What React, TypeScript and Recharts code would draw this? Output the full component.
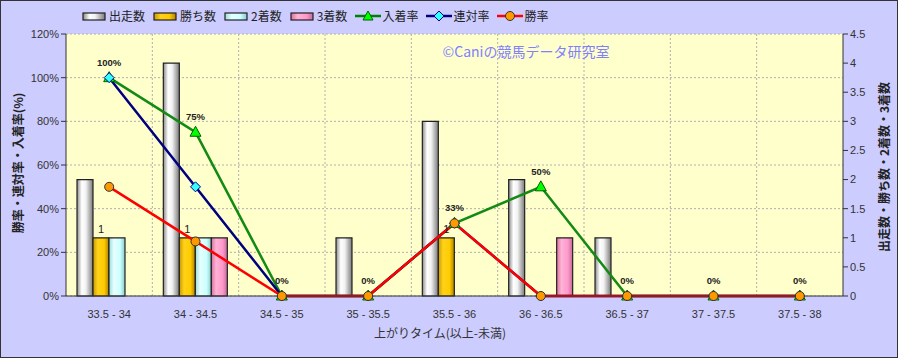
import React from 'react';
import { Bar, CartesianGrid, ComposedChart, LabelList, Legend, Line, XAxis, YAxis } from 'recharts';

const categories = ['33.5 - 34', '34 - 34.5', '34.5 - 35', '35 - 35.5', '35.5 - 36', '36 - 36.5', '36.5 - 37', '37 - 37.5', '37.5 - 38'];
const starts = [2, 4, 0, 1, 3, 2, 1, 0, 0];
const wins = [1, 1, 0, 0, 1, 0, 0, 0, 0];
const seconds = [1, 1, 0, 0, 0, 0, 0, 0, 0];
const thirds = [0, 1, 0, 0, 0, 1, 0, 0, 0];
const showRate = [100, 75, 0, 0, 33.3, 50, 0, 0, 0];
const rentaiRate = [100, 50, 0, 0, 33.3, 0, 0, 0, 0];
const winRate = [50, 25, 0, 0, 33.3, 0, 0, 0, 0];
const leftTicks = [0, 20, 40, 60, 80, 100, 120];
const rightTicks = [0, 0.5, 1, 1.5, 2, 2.5, 3, 3.5, 4, 4.5];

const data = categories.map((name, i) => ({
    name,
    starts: starts[i],
    wins: wins[i],
    seconds: seconds[i],
    thirds: thirds[i],
    showRate: showRate[i],
    rentaiRate: rentaiRate[i],
    winRate: winRate[i],
}));

const FONT = '"Liberation Sans", "Noto Sans CJK JP", sans-serif';
const JP = '"Noto Sans CJK JP", sans-serif';

const Triangle = (p: any) => (
    <polygon key={`t${p.index}`} points={`${p.cx},${p.cy - 6} ${p.cx - 5.5},${p.cy + 4} ${p.cx + 5.5},${p.cy + 4}`}
        fill="#00ff00" stroke="#006000" strokeWidth={1} />
);
const Diamond = (p: any) => (
    <polygon key={`d${p.index}`} points={`${p.cx},${p.cy - 5} ${p.cx + 5},${p.cy} ${p.cx},${p.cy + 5} ${p.cx - 5},${p.cy}`}
        fill="#33ffff" stroke="#000080" strokeWidth={1} />
);
const Circle = (p: any) => (
    <circle key={`c${p.index}`} cx={p.cx} cy={p.cy} r={4.5} fill="#ff9900" stroke="#333" strokeWidth={1} />
);

const legendItems = [
    { label: '出走数', kind: 'bar', fill: 'url(#gWhite)' },
    { label: '勝ち数', kind: 'bar', fill: 'url(#gGold)' },
    { label: '2着数', kind: 'bar', fill: 'url(#gCyan)' },
    { label: '3着数', kind: 'bar', fill: 'url(#gPink)' },
    { label: '入着率', kind: 'tri', color: '#008000' },
    { label: '連対率', kind: 'dia', color: '#000080' },
    { label: '勝率', kind: 'cir', color: '#ff0000' },
];

const LegendContent = () => (
    <div style={{ display: 'flex', gap: 8, paddingLeft: 81, fontFamily: JP, fontSize: 12, color: '#222' }}>
        {legendItems.map((it) => (
            <div key={it.label} style={{ display: 'flex', alignItems: 'center' }}>
                <svg width={26} height={12} style={{ marginRight: 1 }}>
                    {it.kind === 'bar' ? (
                        <rect x={1} y={3} width={22} height={7} fill={it.fill} stroke="#222" strokeWidth={1.2} />
                    ) : (
                        <g>
                            <line x1={0} y1={6} x2={26} y2={6} stroke={it.color} strokeWidth={2.5} />
                            {it.kind === 'tri' && <polygon points="13,1 8,10 18,10" fill="#00ff00" stroke="#006000" />}
                            {it.kind === 'dia' && <polygon points="13,1 18,6 13,11 8,6" fill="#33ffff" stroke="#000080" />}
                            {it.kind === 'cir' && <circle cx={13} cy={6} r={4.5} fill="#ff9900" stroke="#333" />}
                        </g>
                    )}
                </svg>
                <span>{it.label}</span>
            </div>
        ))}
    </div>
);

export default function App() {
    return (
        <div style={{ position: 'absolute', left: 0, top: 0, width: 898, height: 358, boxSizing: 'border-box', border: '1px solid #333', background: '#ccccff' }}>
            <ComposedChart width={896} height={356} data={data} barGap={0} barSize={16}
                margin={{ top: 33, right: 10, bottom: 31, left: 15 }}>
                <defs>
                    <linearGradient id="gWhite" x1="0" y1="0" x2="1" y2="0">
                        <stop offset="0%" stopColor="#8a8a8a" />
                        <stop offset="30%" stopColor="#ffffff" />
                        <stop offset="55%" stopColor="#f2f2f2" />
                        <stop offset="100%" stopColor="#7a7a7a" />
                    </linearGradient>
                    <linearGradient id="gGold" x1="0" y1="0" x2="1" y2="0">
                        <stop offset="0%" stopColor="#c89a00" />
                        <stop offset="30%" stopColor="#ffd21a" />
                        <stop offset="70%" stopColor="#ffcc00" />
                        <stop offset="100%" stopColor="#b08000" />
                    </linearGradient>
                    <linearGradient id="gCyan" x1="0" y1="0" x2="1" y2="0">
                        <stop offset="0%" stopColor="#99dddd" />
                        <stop offset="30%" stopColor="#e6ffff" />
                        <stop offset="70%" stopColor="#ccffff" />
                        <stop offset="100%" stopColor="#88cccc" />
                    </linearGradient>
                    <linearGradient id="gPink" x1="0" y1="0" x2="1" y2="0">
                        <stop offset="0%" stopColor="#d9709f" />
                        <stop offset="30%" stopColor="#ffb3d6" />
                        <stop offset="70%" stopColor="#ff99cc" />
                        <stop offset="100%" stopColor="#c76a98" />
                    </linearGradient>
                </defs>
                <CartesianGrid yAxisId="left" fill="#ffffcc" stroke="#b0b0b0" strokeDasharray="2 2"
                    verticalCoordinatesGenerator={({ offset }: any) =>
                        categories.slice(1).map((_, i) => offset.left + ((i + 1) * offset.width) / categories.length)} />
                <XAxis dataKey="name" tickLine={false} axisLine={{ stroke: '#333' }} height={30}
                    tick={{ fill: '#333', fontSize: 11, fontFamily: FONT }} tickMargin={8} interval={0} />
                <YAxis yAxisId="left" domain={[0, 120]} ticks={leftTicks} width={50} tickFormatter={(v) => `${v}%`}
                    axisLine={{ stroke: '#333' }} tickLine={{ stroke: '#333' }} tickSize={5}
                    tick={{ fill: '#333', fontSize: 11, fontFamily: FONT }} />
                <YAxis yAxisId="right" orientation="right" domain={[0, 4.5]} ticks={rightTicks} width={44}
                    axisLine={{ stroke: '#333' }} tickLine={{ stroke: '#333' }} tickSize={5}
                    tick={{ fill: '#333', fontSize: 11, fontFamily: FONT }} />
                <Legend verticalAlign="middle" wrapperStyle={{ top: 6, left: 0, width: 896 }} content={LegendContent} />

                <Bar yAxisId="right" dataKey="starts" name="出走数" fill="url(#gWhite)" stroke="#222" strokeWidth={1.2} isAnimationActive={false} />
                <Bar yAxisId="right" dataKey="wins" name="勝ち数" fill="url(#gGold)" stroke="#222" strokeWidth={1.2} isAnimationActive={false}>
                    <LabelList dataKey="wins" position="top" formatter={(v: any) => (v ? v : '')}
                        style={{ fontSize: 11, fill: '#222', fontFamily: FONT }} />
                </Bar>
                <Bar yAxisId="right" dataKey="seconds" name="2着数" fill="url(#gCyan)" stroke="#222" strokeWidth={1.2} isAnimationActive={false} />
                <Bar yAxisId="right" dataKey="thirds" name="3着数" fill="url(#gPink)" stroke="#222" strokeWidth={1.2} isAnimationActive={false} />

                <Line yAxisId="left" dataKey="showRate" name="入着率" stroke="#138a13" strokeWidth={2.5} dot={Triangle}
                    activeDot={false} isAnimationActive={false}>
                    <LabelList dataKey="showRate" position="top" offset={12} formatter={(v: any) => `${Math.round(v)}%`}
                        style={{ fontSize: 9.5, fontWeight: 'bold', fill: '#222', fontFamily: FONT }} />
                </Line>
                <Line yAxisId="left" dataKey="rentaiRate" name="連対率" stroke="#000080" strokeWidth={2.5} dot={Diamond}
                    activeDot={false} isAnimationActive={false} />
                <Line yAxisId="left" dataKey="winRate" name="勝率" stroke="#ff0000" strokeWidth={2.5} dot={Circle}
                    activeDot={false} isAnimationActive={false} />

                <text x={525} y={56} textAnchor="middle" fontSize={14} fill="#8080ff" fontFamily={JP}>©Caniの競馬データ研究室</text>
                <text x={439} y={337} textAnchor="middle" fontSize={12} fill="#333" fontFamily={JP}>上がりタイム(以上-未満)</text>
                <text transform="translate(22,162) rotate(-90)" textAnchor="middle" fontSize={12} fontWeight="bold" fill="#222" fontFamily={JP}>勝率・連対率・入着率(%)</text>
                <text transform="translate(888,166) rotate(-90)" textAnchor="middle" fontSize={12} fontWeight="bold" fill="#222" fontFamily={JP}>出走数・勝ち数・2着数・3着数</text>
            </ComposedChart>
        </div>
    );
}
